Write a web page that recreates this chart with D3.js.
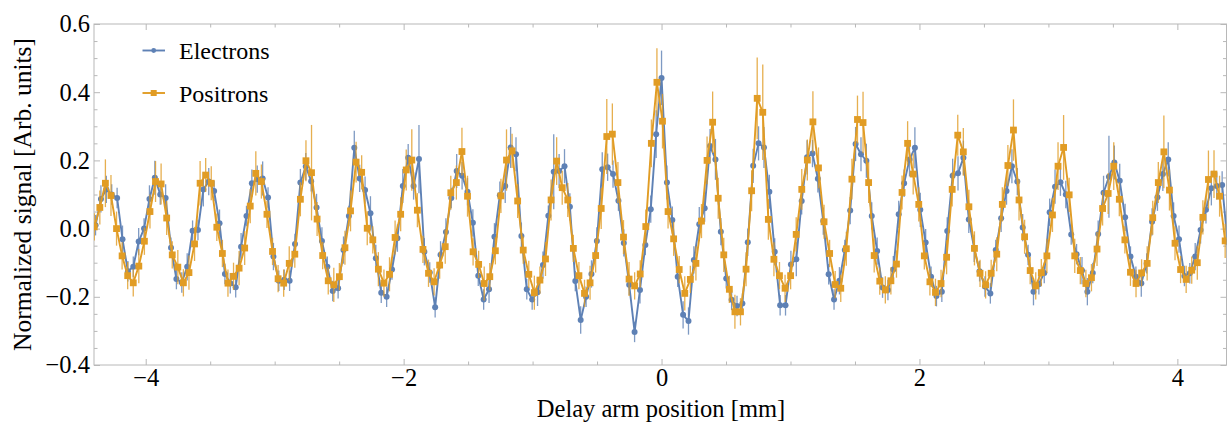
<!DOCTYPE html>
<html>
<head>
<meta charset="utf-8">
<title>Delay scan</title>
<style>
  body { margin: 0; background: #fff; }
  svg { display: block; }
  text { font-family: "Liberation Serif", "Times New Roman", serif; fill: #000; }
</style>
</head>
<body>
<div id="chart"></div>
<script src="https://cdn.jsdelivr.net/npm/d3@7/dist/d3.min.js"></script>
<script>

// scan grid of each run (mm)
var electronStart = -4.389, electronStep = 0.0418;
var positronStart = -4.399, positronStep = 0.0432;

var electronSignal = [
  0.01, 0.087, 0.115, 0.10, 0.09, -0.031, -0.125, -0.112, -0.038, 0.0,
  0.087, 0.149, 0.10, 0.09, -0.056, -0.148, -0.158, -0.112, -0.006, -0.004,
  0.115, 0.138, 0.11, 0.016, -0.133, -0.16, -0.172, -0.053, 0.037, 0.133,
  0.145, 0.147, 0.091, -0.082, -0.153, -0.15, -0.153, -0.045, 0.135, 0.182,
  0.139, 0.062, -0.036, -0.112, -0.183, -0.175, -0.063, 0.037, 0.237, 0.147,
  0.113, 0.045, -0.087, -0.188, -0.2, -0.12, -0.028, 0.125, 0.208, 0.125,
  0.204, -0.068, -0.129, -0.231, -0.077, -0.01, 0.09, 0.169, 0.155, 0.108,
  0.017, -0.138, -0.208, -0.178, -0.024, 0.098, 0.125, 0.238, 0.218, -0.022,
  -0.178, -0.208, -0.187, -0.107, 0.038, 0.167, 0.169, 0.183, 0.064, -0.154,
  -0.268, -0.2, -0.133, -0.036, 0.174, 0.18, 0.16, 0.082, -0.042, -0.165,
  -0.303, -0.18, -0.048, 0.057, 0.277, 0.442, 0.135, 0.025, -0.141, -0.253,
  -0.271, -0.092, 0.013, 0.06, 0.242, 0.203, -0.009, -0.146, -0.209, -0.227,
  -0.22, -0.04, 0.184, 0.25, 0.238, 0.108, -0.068, -0.225, -0.225, -0.105,
  -0.09, 0.081, 0.209, 0.22, 0.146, 0.022, -0.134, -0.208, -0.153, -0.063,
  0.053, 0.248, 0.218, 0.199, 0.037, -0.066, -0.173, -0.18, -0.12, 0.042,
  0.133, 0.203, 0.237, 0.055, -0.041, -0.141, -0.198, -0.185, -0.007, 0.155,
  0.162, 0.208, 0.027, -0.058, -0.125, -0.17, -0.19, -0.063, 0.03, 0.11,
  0.183, 0.138, 0.003, -0.077, -0.185, -0.163, -0.13, 0.048, 0.123, 0.136,
  0.1, -0.017, -0.075, -0.123, -0.185, -0.13, -0.016, 0.105, 0.152, 0.194,
  0.14, 0.033, -0.082, -0.141, -0.16, -0.102, 0.02, 0.092, 0.16, 0.203,
  0.037, -0.031, -0.139, -0.131, -0.082, -0.004, 0.055, 0.118, 0.125, 0.128,
  -0.04
];

var electronError = [
  .03,.04,.04,.03,.03,.04,.03,.03,.04,.03,
  .04,.05,.03,.04,.03,.03,.03,.04,.03,.03,
  .05,.04,.03,.04,.03,.03,.03,.04,.03,.04,
  .04,.05,.03,.04,.03,.03,.03,.03,.04,.04,
  .03,.04,.04,.03,.03,.03,.04,.03,.05,.04,
  .04,.05,.04,.03,.03,.03,.04,.05,.04,.04,
  .10,.04,.03,.03,.04,.04,.03,.05,.04,.04,
  .04,.03,.03,.04,.04,.04,.05,.06,.05,.04,
  .03,.03,.04,.04,.03,.11,.05,.05,.04,.03,
  .04,.03,.04,.04,.05,.04,.04,.03,.04,.03,
  .03,.04,.03,.04,.07,.08,.05,.04,.03,.04,
  .04,.04,.05,.04,.05,.06,.04,.03,.03,.03,
  .03,.04,.05,.05,.06,.05,.04,.03,.03,.04,
  .05,.04,.05,.04,.04,.04,.03,.03,.04,.03,
  .04,.05,.05,.05,.04,.04,.03,.03,.04,.04,
  .04,.05,.06,.05,.04,.03,.03,.03,.04,.05,
  .05,.05,.04,.04,.03,.03,.03,.03,.04,.04,
  .05,.04,.04,.03,.04,.03,.03,.04,.05,.04,
  .04,.03,.03,.04,.04,.03,.04,.05,.12,.05,
  .05,.04,.03,.03,.04,.03,.04,.04,.05,.05,
  .04,.04,.03,.03,.04,.04,.04,.05,.04,.04,
  .03
];

var positronSignal = [
  0.005, 0.062, 0.133, 0.097, 0.0, -0.08, -0.138, -0.159, -0.11, -0.037,
  0.05, 0.138, 0.131, 0.031, -0.077, -0.113, -0.159, -0.129, -0.045, 0.133,
  0.157, 0.133, 0.004, -0.073, -0.16, -0.14, -0.116, -0.057, 0.066, 0.162,
  0.138, 0.042, -0.067, -0.147, -0.16, -0.102, -0.075, 0.086, 0.199, 0.164,
  0.028, -0.079, -0.153, -0.165, -0.141, -0.056, 0.052, 0.195, 0.165, 0.001,
  -0.033, -0.119, -0.16, -0.134, -0.026, 0.042, 0.172, 0.201, 0.054, -0.061,
  -0.131, -0.156, -0.107, -0.053, 0.105, 0.135, 0.226, 0.095, -0.068, -0.105,
  -0.161, -0.141, -0.065, 0.096, 0.201, 0.228, 0.081, -0.063, -0.134, -0.188,
  -0.151, -0.089, 0.084, 0.198, 0.12, 0.084, -0.058, -0.138, -0.19, -0.159,
  -0.079, 0.059, 0.27, 0.277, 0.135, -0.025, -0.148, -0.168, -0.133, 0.006,
  0.25, 0.429, 0.315, 0.05, -0.03, -0.12, -0.19, -0.149, -0.102, 0.022,
  0.2, 0.312, 0.089, -0.077, -0.178, -0.244, -0.244, -0.119, 0.111, 0.382,
  0.341, 0.027, -0.09, -0.138, -0.175, -0.138, -0.017, 0.115, 0.201, 0.313,
  0.178, 0.02, -0.073, -0.164, -0.175, -0.059, 0.145, 0.32, 0.311, 0.135,
  -0.079, -0.154, -0.18, -0.153, -0.104, 0.106, 0.25, 0.16, 0.071, -0.08,
  -0.156, -0.187, -0.161, -0.084, 0.115, 0.274, 0.225, 0.064, -0.058, -0.131,
  -0.165, -0.131, -0.075, 0.071, 0.185, 0.289, 0.084, -0.024, -0.123, -0.168,
  -0.129, -0.08, 0.04, 0.183, 0.238, 0.099, -0.08, -0.123, -0.161, -0.144,
  -0.06, 0.059, 0.103, 0.183, 0.086, -0.033, -0.128, -0.161, -0.13, -0.102,
  0.032, 0.135, 0.225, 0.113, -0.043, -0.12, -0.149, -0.122, -0.1, 0.033,
  0.144, 0.16, 0.095, -0.036
];

var positronError = [
  .04,.05,.07,.06,.05,.04,.04,.04,.05,.04,
  .05,.06,.06,.05,.04,.05,.04,.05,.05,.065,
  .05,.05,.04,.04,.04,.04,.05,.05,.05,.065,
  .05,.04,.04,.04,.04,.05,.04,.05,.06,.14,
  .05,.04,.04,.05,.04,.05,.06,.06,.05,.05,
  .04,.05,.04,.05,.05,.05,.06,.09,.05,.04,
  .04,.04,.04,.05,.05,.05,.07,.06,.04,.04,
  .05,.04,.04,.05,.09,.05,.05,.04,.04,.05,
  .04,.05,.06,.07,.05,.05,.04,.04,.04,.05,
  .05,.06,.11,.09,.06,.05,.05,.04,.04,.05,
  .07,.10,.08,.05,.05,.04,.05,.04,.05,.05,
  .07,.09,.06,.05,.04,.05,.04,.05,.06,.12,
  .14,.06,.05,.04,.04,.04,.05,.06,.06,.09,
  .06,.05,.04,.04,.04,.05,.06,.07,.09,.06,
  .05,.04,.04,.04,.04,.05,.065,.06,.05,.04,
  .04,.04,.04,.05,.05,.06,.07,.05,.05,.04,
  .04,.04,.05,.05,.06,.09,.06,.05,.04,.04,
  .04,.05,.05,.07,.095,.05,.05,.04,.04,.04,
  .05,.05,.06,.07,.05,.04,.04,.04,.04,.05,
  .05,.06,.107,.06,.05,.04,.04,.04,.05,.05,
  .085,.07,.06,.05
];

var xTicks = [-4, -2, 0, 2, 4];
var xTickLabels = ["\u22124", "\u22122", "0", "2", "4"];
var yTicks = [-0.4, -0.2, 0.0, 0.2, 0.4, 0.6];
var yTickLabels = ["\u22120.4", "\u22120.2", "0.0", "0.2", "0.4", "0.6"];
var seriesNames = ["Electrons", "Positrons"];
var seriesColors = ["#5e81b5", "#e19c24"];

var width = 1227, height = 423;
var plotLeft = 94, plotRight = 1226.5, plotTop = 24, plotBottom = 365;

var x = d3.scaleLinear().domain([-4.401, 4.381]).range([plotLeft, plotRight]);
var y = d3.scaleLinear().domain([-0.4, 0.6]).range([plotBottom, plotTop]);

var svg = d3.select('#chart').append('svg')
    .attr('width', width)
    .attr('height', height);

svg.append('defs').append('clipPath').attr('id', 'plot')
  .append('rect')
    .attr('x', plotLeft).attr('y', plotTop)
    .attr('width', plotRight - plotLeft).attr('height', plotBottom - plotTop);

// frame + ticks (all four sides, pointing in)
var frameColor = '#b8b8b8';
var xMinor = d3.range(-4.5, 4.51, 0.5).filter(d => xTicks.indexOf(d) < 0 && d > -4.401);
var yMinor = d3.range(-0.4, 0.601, 0.05).map(d => +d.toFixed(2)).filter(d => yTicks.indexOf(d) < 0);

function styleAxis(g) {
  g.select('.domain').remove();
  g.selectAll('line').attr('stroke', frameColor);
  g.selectAll('text').style('font-size', '24.5px').attr('fill', '#000');
}

svg.append('g').attr('transform', 'translate(0,' + plotBottom + ')')
  .call(d3.axisBottom(x).tickValues(xTicks).tickFormat((d, i) => xTickLabels[i]).tickSize(-6).tickPadding(4))
  .call(styleAxis);
svg.append('g').attr('transform', 'translate(0,' + plotBottom + ')')
  .call(d3.axisBottom(x).tickValues(xMinor).tickFormat('').tickSize(-3.5))
  .call(styleAxis);
svg.append('g').attr('transform', 'translate(0,' + plotTop + ')')
  .call(d3.axisTop(x).tickValues(xTicks).tickFormat('').tickSize(-6))
  .call(styleAxis);
svg.append('g').attr('transform', 'translate(0,' + plotTop + ')')
  .call(d3.axisTop(x).tickValues(xMinor).tickFormat('').tickSize(-3.5))
  .call(styleAxis);

svg.append('g').attr('transform', 'translate(' + plotLeft + ',0)')
  .call(d3.axisLeft(y).tickValues(yTicks).tickFormat((d, i) => yTickLabels[i]).tickSize(-6).tickPadding(4))
  .call(styleAxis);
svg.append('g').attr('transform', 'translate(' + plotLeft + ',0)')
  .call(d3.axisLeft(y).tickValues(yMinor).tickFormat('').tickSize(-3.5))
  .call(styleAxis);
svg.append('g').attr('transform', 'translate(' + plotRight + ',0)')
  .call(d3.axisRight(y).tickValues(yTicks).tickFormat('').tickSize(-6))
  .call(styleAxis);
svg.append('g').attr('transform', 'translate(' + plotRight + ',0)')
  .call(d3.axisRight(y).tickValues(yMinor).tickFormat('').tickSize(-3.5))
  .call(styleAxis);

svg.append('rect')
  .attr('x', plotLeft).attr('y', plotTop)
  .attr('width', plotRight - plotLeft).attr('height', plotBottom - plotTop)
  .attr('fill', 'none').attr('stroke', frameColor).attr('stroke-width', 1);

// axis titles
svg.append('text')
  .attr('x', 661).attr('y', 417)
  .attr('text-anchor', 'middle')
  .style('font-size', '24.5px')
  .text('Delay arm position [mm]');

svg.append('text')
  .attr('transform', 'translate(31,' + ((plotTop + plotBottom) / 2) + ') rotate(-90)')
  .attr('text-anchor', 'middle')
  .style('font-size', '25.5px')
  .text('Normalized signal [Arb. units]');

// data
var series = [
  { values: electronSignal, errors: electronError, start: electronStart, step: electronStep, shape: 'circle' },
  { values: positronSignal, errors: positronError, start: positronStart, step: positronStep, shape: 'square' }
];

var plot = svg.append('g').attr('clip-path', 'url(#plot)');
var line = d3.line().x(d => x(d.x)).y(d => y(d.v));

series.forEach(function(s, si) {
  var pts = s.values.map((v, k) => ({ x: s.start + k * s.step, v: v, e: s.errors[k] }));
  var col = seriesColors[si];
  var g = plot.append('g');

  g.selectAll('line.err').data(pts).enter().append('line')
    .attr('class', 'err')
    .attr('x1', d => x(d.x)).attr('x2', d => x(d.x))
    .attr('y1', d => y(d.v - d.e)).attr('y2', d => y(d.v + d.e))
    .attr('stroke', col).attr('stroke-width', 1.3).attr('opacity', 0.8);

  g.append('path').datum(pts)
    .attr('d', line)
    .attr('fill', 'none')
    .attr('stroke', col)
    .attr('stroke-width', 1.9)
    .attr('stroke-linejoin', 'round');

  if (s.shape === 'circle') {
    g.selectAll('circle').data(pts).enter().append('circle')
      .attr('cx', d => x(d.x)).attr('cy', d => y(d.v)).attr('r', 3)
      .attr('fill', col);
  } else {
    g.selectAll('rect').data(pts).enter().append('rect')
      .attr('x', d => x(d.x) - 3.4).attr('y', d => y(d.v) - 3.4)
      .attr('width', 6.8).attr('height', 6.8)
      .attr('fill', col);
  }
});

// legend
var legend = svg.append('g');
seriesNames.forEach(function(name, i) {
  var ly = 50.5 + i * 42.5;
  var row = legend.append('g').attr('transform', 'translate(0,' + ly + ')');
  row.append('line').attr('x1', 142.5).attr('x2', 165).attr('y1', 0).attr('y2', 0)
    .attr('stroke', seriesColors[i]).attr('stroke-width', 1.9);
  if (i === 0) {
    row.append('circle').attr('cx', 153.7).attr('cy', 0).attr('r', 2.4).attr('fill', seriesColors[i]);
  } else {
    row.append('rect').attr('x', 150.7).attr('y', -3).attr('width', 6).attr('height', 6).attr('fill', seriesColors[i]);
  }
  row.append('text').attr('x', 179).attr('y', 8.5)
    .style('font-size', '24px')
    .text(name);
});

</script>
</body>
</html>
